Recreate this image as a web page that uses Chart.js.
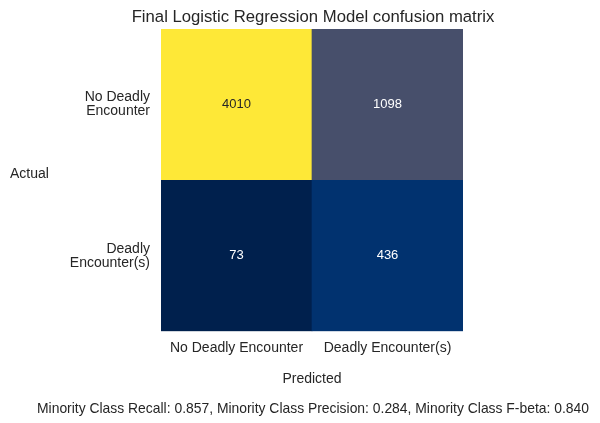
<!DOCTYPE html>
<html>
<head>
<meta charset="utf-8">
<script src="https://cdn.jsdelivr.net/npm/chart.js@4.4.1/dist/chart.umd.min.js"></script>
<style>
  html,body{margin:0;padding:0;background:#fff;}
  #wrap{width:600px;height:423px;}
</style>
</head>
<body>
<div id="wrap"><canvas id="c" width="600" height="423"></canvas></div>
<script>
const predictedLabels = ["No Deadly Encounter", "Deadly Encounter(s)"];
const actualLabels = [["No Deadly", "Encounter"], ["Deadly", "Encounter(s)"]];
// rows: actual (top row first), columns: predicted
const rowNoDeadly = [4010, 1098];
const rowDeadly = [73, 436];
const titleText = "Final Logistic Regression Model confusion matrix";
const footerText = "Minority Class Recall: 0.857, Minority Class Precision: 0.284, Minority Class F-beta: 0.840";

const FONT = "'Liberation Sans', Arial, sans-serif";
const TXT = "#262626";

const allVals = rowNoDeadly.concat(rowDeadly);
const vmin = Math.min(...allVals), vmax = Math.max(...allVals);
const cividisStops = [
  [0.00, [0, 32, 77]],
  [0.09, [0, 50, 111]],
  [0.26, [71, 79, 107]],
  [0.50, [124, 123, 120]],
  [0.75, [188, 175, 111]],
  [1.00, [254, 232, 55]]
];
function cividis(v) {
  const t = (v - vmin) / (vmax - vmin);
  for (let i = 1; i < cividisStops.length; i++) {
    const [t1, c1] = cividisStops[i];
    const [t0, c0] = cividisStops[i - 1];
    if (t <= t1) {
      const f = (t - t0) / (t1 - t0);
      const c = c0.map((x, k) => Math.round(x + (c1[k] - x) * f));
      return `rgb(${c[0]},${c[1]},${c[2]})`;
    }
  }
  return "rgb(254,232,55)";
}
function textColor(v) {
  const t = (v - vmin) / (vmax - vmin);
  return t > 0.6 ? TXT : "#ffffff";
}

const cellLabels = {
  id: "cellLabels",
  afterDatasetsDraw(chart) {
    const ctx = chart.ctx;
    ctx.save();
    ctx.font = "13px " + FONT;
    ctx.textAlign = "center";
    ctx.textBaseline = "middle";
    chart.data.datasets.forEach((ds, di) => {
      const meta = chart.getDatasetMeta(di);
      meta.data.forEach((bar, i) => {
        const v = ds.values[i];
        const p = bar.getProps(["x", "y", "base"], true);
        ctx.fillStyle = textColor(v);
        ctx.fillText(String(v), p.x, (p.y + p.base) / 2);
      });
    });
    // "Actual" axis label, horizontal on the left
    const ys = chart.scales.y;
    ctx.fillStyle = TXT;
    ctx.textAlign = "left";
    ctx.font = "14px " + FONT;
    ctx.fillText("Actual", 10, (ys.top + ys.bottom) / 2 - 6);
    ctx.restore();
  }
};

new Chart(document.getElementById("c"), {
  type: "bar",
  data: {
    labels: predictedLabels,
    datasets: [
      {
        label: "Deadly Encounter(s)",
        values: rowDeadly,
        data: rowDeadly.map(() => [0, 1]),
        backgroundColor: rowDeadly.map(cividis),
        barPercentage: 1, categoryPercentage: 1, borderWidth: 0
      },
      {
        label: "No Deadly Encounter",
        values: rowNoDeadly,
        data: rowNoDeadly.map(() => [1, 2]),
        backgroundColor: rowNoDeadly.map(cividis),
        barPercentage: 1, categoryPercentage: 1, borderWidth: 0
      }
    ]
  },
  options: {
    responsive: false,
    animation: false,
    events: [],
    layout: { padding: { left: 26, right: 0, top: 0, bottom: 0 } },
    plugins: {
      legend: { display: false },
      tooltip: { enabled: false },
      title: {
        display: true, text: titleText, color: TXT,
        font: { family: FONT, size: 16.7, weight: "normal", lineHeight: 1.2 },
        padding: { top: 7, bottom: 2 }
      },
      subtitle: {
        display: true, text: footerText, position: "bottom", color: TXT,
        font: { family: FONT, size: 13.9, weight: "normal", lineHeight: 1.2 },
        padding: { top: 0, bottom: 5.65 }
      }
    },
    scales: {
      x: {
        type: "category",
        stacked: true,
        grid: { display: false, drawTicks: false },
        border: { display: false },
        ticks: { color: TXT, font: { family: FONT, size: 14, lineHeight: 1.2 }, padding: 8.6, maxRotation: 0 },
        title: { display: true, text: "Predicted", color: TXT, font: { family: FONT, size: 14, lineHeight: 1.2 }, padding: { top: 0, bottom: 12.9 } },
        afterFit(s) { s.height = 69.3; }
      },
      y: {
        type: "linear", min: 0, max: 2,
        grid: { display: false, drawTicks: false },
        border: { display: false },
        afterBuildTicks(s) { s.ticks = [{ value: 0.5 }, { value: 1.5 }]; },
        ticks: {
          color: TXT, font: { family: FONT, size: 14, lineHeight: 1.0 }, padding: 11,
          callback(v) { return v === 1.5 ? actualLabels[0] : actualLabels[1]; }
        },
        afterFit(s) { s.width = 135; }
      },
      yRight: {
        type: "linear", position: "right", display: true,
        grid: { display: false, drawTicks: false },
        border: { display: false },
        ticks: { display: false },
        afterFit(s) { s.width = 137; }
      }
    }
  },
  plugins: [cellLabels]
});
</script>
</body>
</html>
